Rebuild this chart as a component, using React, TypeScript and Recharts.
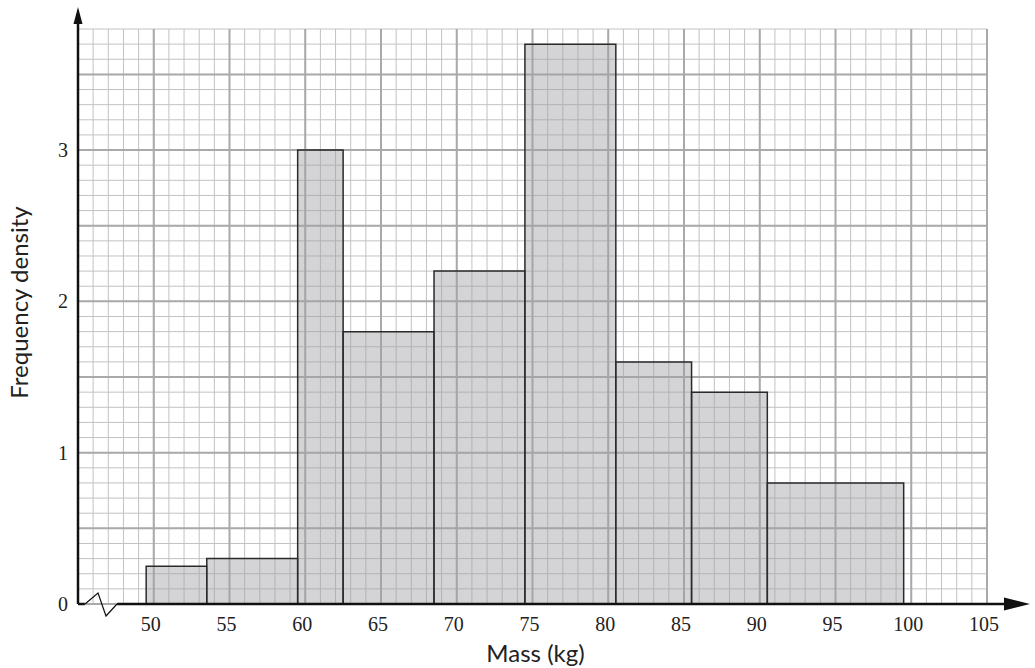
import React from 'react';
import {
  ComposedChart,
  XAxis,
  YAxis,
  CartesianGrid,
  ReferenceArea,
  ReferenceLine,
  ReferenceDot,
} from 'recharts';

// Histogram bins (kg) and frequency densities
const binStarts = [49.5, 53.5, 59.5, 62.5, 68.5, 74.5, 80.5, 85.5, 90.5];
const binEnds = [53.5, 59.5, 62.5, 68.5, 74.5, 80.5, 85.5, 90.5, 99.5];
const densities = [0.25, 0.3, 3.0, 1.8, 2.2, 3.7, 1.6, 1.4, 0.8];

// Axis settings
const xDomain = [45, 105];
const yDomain = [0, 3.8];
const xTickLabels = [50, 55, 60, 65, 70, 75, 80, 85, 90, 95, 100, 105];
const yTickLabels = [0, 1, 2, 3];
const xMinorTicks = Array.from({ length: 61 }, (_, i) => 45 + i);
const yMinorTicks = Array.from({ length: 39 }, (_, i) => Math.round(i) / 10);
const xMajorGrid = Array.from({ length: 13 }, (_, i) => 45 + i * 5);
const yMajorGrid = Array.from({ length: 8 }, (_, i) => i * 0.5);

const data = binStarts.map((s, i) => ({ start: s, end: binEnds[i], density: densities[i], mid: (s + binEnds[i]) / 2 }));

const W = 1035;
const H = 668;
const SERIF = '"Liberation Serif", "DejaVu Serif", serif';
const SANS = 'Lato, "Open Sans", sans-serif';

const mapScale = (s: any, v: number, fallback: number) => {
  if (typeof s === 'function') return s(v);
  if (s && typeof s.map === 'function') return s.map(v);
  return fallback;
};

const majorVertical = (props: any) => {
  const { xAxis, offset } = props;
  return xMajorGrid.map((v) =>
    mapScale(xAxis && xAxis.scale, v, offset.left + ((v - xDomain[0]) / (xDomain[1] - xDomain[0])) * offset.width)
  );
};
const majorHorizontal = (props: any) => {
  const { yAxis, offset } = props;
  return yMajorGrid.map((v) =>
    mapScale(yAxis && yAxis.scale, v, offset.top + offset.height - ((v - yDomain[0]) / (yDomain[1] - yDomain[0])) * offset.height)
  );
};

const YArrow = (props: any) => {
  const { cx, cy } = props;
  return (
    <g>
      <line x1={cx} y1={cy} x2={cx} y2={cy - 10} stroke="#111" strokeWidth={2.5} />
      <polygon points={`${cx},${cy - 22} ${cx - 4.5},${cy - 5} ${cx + 4.5},${cy - 5}`} fill="#111" />
    </g>
  );
};

const XArrow = (props: any) => {
  const { cx, cy } = props;
  return (
    <g>
      <line x1={cx} y1={cy} x2={cx + 20} y2={cy} stroke="#111" strokeWidth={2.5} />
      <polygon points={`${cx + 43},${cy} ${cx + 17},${cy - 6.5} ${cx + 17},${cy + 6.5}`} fill="#111" />
    </g>
  );
};

const Zigzag = (props: any) => {
  const { cx, cy } = props;
  return (
    <path
      d={`M${cx + 7},${cy} L${cx + 20},${cy - 11} L${cx + 28},${cy + 12} L${cx + 39},${cy}`}
      fill="none"
      stroke="#111"
      strokeWidth={1.2}
    />
  );
};

const XTick = (props: any) => {
  const { x, y, payload } = props;
  if (!xTickLabels.includes(payload.value)) return null;
  return (
    <text x={x - 3} y={y + 19} textAnchor="middle" fontFamily={SERIF} fontSize={20} fill="#222">
      {payload.value}
    </text>
  );
};

const YTick = (props: any) => {
  const { x, y, payload } = props;
  const v = Math.round(payload.value * 10) / 10;
  if (!yTickLabels.includes(v)) return null;
  return (
    <text x={x - 2} y={y + 7} textAnchor="end" fontFamily={SERIF} fontSize={20} fill="#222">
      {v}
    </text>
  );
};

const YLabel = (props: any) => {
  const vb = props.viewBox || { x: 48, y: 29, width: 30, height: 575 };
  const x = vb.x - 30;
  const y = vb.y + vb.height / 2 - 14;
  return (
    <text
      x={x}
      y={y}
      textAnchor="middle"
      dominantBaseline="central"
      transform={`rotate(-90, ${x}, ${y})`}
      fontFamily={SANS}
      fontSize={24}
      fill="#222"
    >
      Frequency density
    </text>
  );
};

const XLabel = (props: any) => {
  const vb = props.viewBox || { x: 78, y: 604, width: 909, height: 30 };
  const x = vb.x + vb.width / 2 + 3;
  const y = vb.y + 48;
  return (
    <text x={x} y={y} textAnchor="middle" dominantBaseline="central" fontFamily={SANS} fontSize={24} fill="#222">
      Mass (kg)
    </text>
  );
};

export default function App() {
  return (
    <div style={{ position: 'absolute', left: 0, top: 0, width: W, height: H, background: '#fff' }}>
      <ComposedChart
        width={W}
        height={H}
        data={data}
        margin={{ top: 29, right: 48, bottom: 34, left: 48 }}
      >
        <CartesianGrid stroke="#c2c2c2" strokeWidth={1} />
        <CartesianGrid
          stroke="#a9a9a9"
          strokeWidth={2}
          verticalCoordinatesGenerator={majorVertical}
          horizontalCoordinatesGenerator={majorHorizontal}
        />
        <XAxis
          dataKey="mid"
          type="number"
          domain={xDomain}
          ticks={xMinorTicks}
          interval={0}
          allowDataOverflow
          axisLine={false}
          tickLine={false}
          tick={<XTick />}
          height={30}
          label={<XLabel />}
        />
        <YAxis
          type="number"
          domain={yDomain}
          ticks={yMinorTicks}
          interval={0}
          allowDataOverflow
          axisLine={{ stroke: '#111', strokeWidth: 2.5 }}
          tickLine={false}
          tick={<YTick />}
          width={30}
          label={<YLabel />}
        />
        {binStarts.map((s, i) => (
          <ReferenceArea
            key={i}
            x1={s}
            x2={binEnds[i]}
            y1={0}
            y2={densities[i]}
            fill="#a0a0a4"
            fillOpacity={0.45}
            stroke="#2a2a2a"
            strokeWidth={1.5}
            strokeOpacity={1}
          />
        ))}
        <ReferenceLine
          segment={[{ x: 45, y: 0 }, { x: 45.45, y: 0 }]}
          stroke="#111"
          strokeWidth={2.5}
          ifOverflow="visible"
        />
        <ReferenceLine
          segment={[{ x: 47.58, y: 0 }, { x: 105, y: 0 }]}
          stroke="#111"
          strokeWidth={2.5}
          ifOverflow="visible"
        />
        <ReferenceDot x={45} y={0} r={0} shape={<Zigzag />} ifOverflow="visible" />
        <ReferenceDot x={45} y={3.8} r={0} shape={<YArrow />} ifOverflow="visible" />
        <ReferenceDot x={105} y={0} r={0} shape={<XArrow />} ifOverflow="visible" />
      </ComposedChart>
    </div>
  );
}
